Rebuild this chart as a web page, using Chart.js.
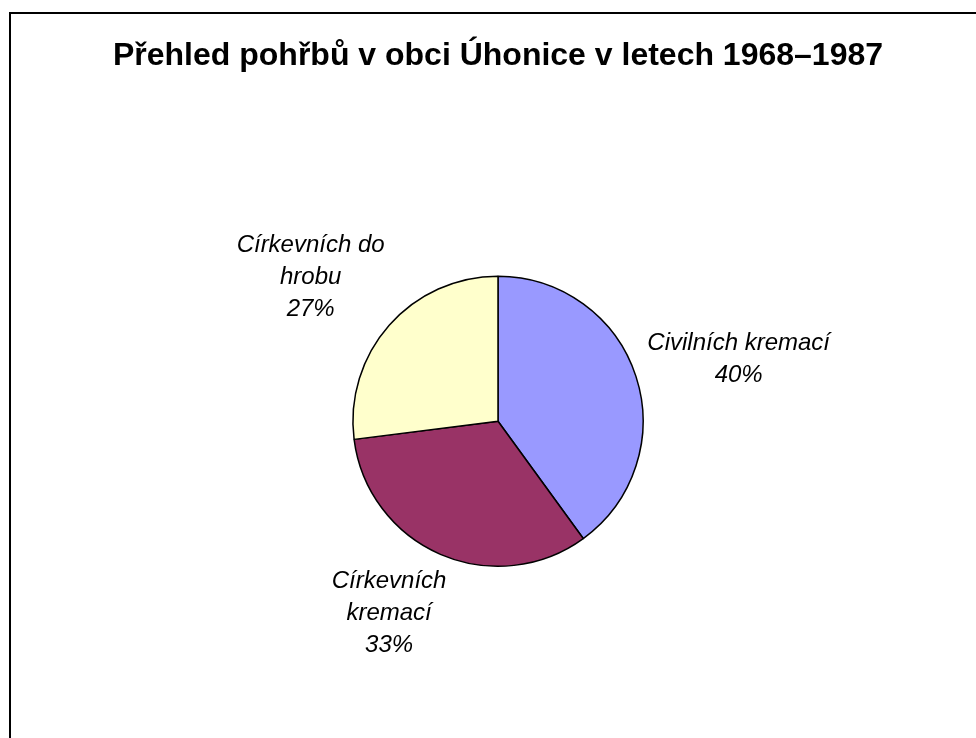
<!DOCTYPE html>
<html>
<head>
<meta charset="utf-8">
<script src="https://cdn.jsdelivr.net/npm/chart.js@4"></script>
<style>
  html, body { margin: 0; padding: 0; background: #fff; }
  #wrap { position: relative; width: 976px; height: 738px; }
</style>
</head>
<body>
<div id="wrap"><canvas id="pieChart" width="976" height="738"></canvas></div>
<script>
// data
const categories = ['Civilních kremací', 'Církevních kremací', 'Církevních do hrobu'];
const shares = [40, 33, 27];
const labelLines = [
    ['Civilních kremací'],
    ['Církevních', 'kremací'],
    ['Církevních do', 'hrobu']
];
const sliceColors = ['#9999FF', '#993366', '#FFFFCC'];
const chartTitle = 'Přehled pohřbů v obci Úhonice v letech 1968–1987';

// frame around the whole chart (runs off the right/bottom edge)
const framePlugin = {
    id: 'frame',
    beforeDraw(chart) {
        const ctx = chart.ctx;
        ctx.save();
        ctx.fillStyle = '#fff';
        ctx.fillRect(0, 0, chart.width, chart.height);
        ctx.strokeStyle = '#000';
        ctx.lineWidth = 2;
        ctx.strokeRect(10, 13, 2000, 2000);
        ctx.restore();
    }
};

// excel-like outside labels: name + percentage, italic
const outsideLabels = {
    id: 'outsideLabels',
    afterDatasetsDraw(chart, args, opts) {
        const ctx = chart.ctx;
        const meta = chart.getDatasetMeta(0);
        const total = shares.reduce((a, b) => a + b, 0);
        const lineH = 32;
        const gap = 24;
        const nudge = opts.nudge || [];
        ctx.save();
        ctx.font = 'italic 24px "Liberation Sans", Arial, sans-serif';
        ctx.fillStyle = '#000';
        ctx.textAlign = 'center';
        ctx.textBaseline = 'middle';
        meta.data.forEach((arc, i) => {
            const p = arc.getProps(['x', 'y', 'startAngle', 'endAngle', 'outerRadius'], true);
            const mid = (p.startAngle + p.endAngle) / 2;
            const dx = Math.cos(mid), dy = Math.sin(mid);
            const lines = labelLines[i].concat([Math.round(shares[i] / total * 100) + '%']);
            const w = Math.max(...lines.map(t => ctx.measureText(t).width));
            const h = lines.length * lineH;
            const [nx, ny] = nudge[i] || [0, 0];
            const px = p.x + (p.outerRadius + gap) * dx;
            const py = p.y + (p.outerRadius + gap) * dy;
            const cx = px + w / 2 * dx + nx;
            const cy = py + h / 2 * dy + ny;
            lines.forEach((t, k) => {
                ctx.fillText(t, cx, cy - h / 2 + lineH / 2 + k * lineH);
            });
        });
        ctx.restore();
    }
};

new Chart(document.getElementById('pieChart'), {
    type: 'pie',
    data: {
        labels: categories,
        datasets: [{
            data: shares,
            backgroundColor: sliceColors,
            borderColor: '#000',
            borderWidth: 1.5
        }]
    },
    options: {
        responsive: false,
        animation: false,
        events: [],
        layout: {
            padding: { left: 20, right: 0, top: 0, bottom: 171 }
        },
        plugins: {
            legend: { display: false },
            tooltip: { enabled: false },
            title: {
                display: true,
                text: chartTitle,
                color: '#000',
                font: { family: '"Liberation Sans", Arial, sans-serif', size: 32, weight: 'bold', lineHeight: 1.2 },
                padding: { top: 37, bottom: 200 }
            },
            outsideLabels: {
                // small hand moves, the labels in the original were dragged a bit
                nudge: [[-7, 0], [-19, -7], [-5, 0]]
            }
        }
    },
    plugins: [framePlugin, outsideLabels]
});
</script>
</body>
</html>
